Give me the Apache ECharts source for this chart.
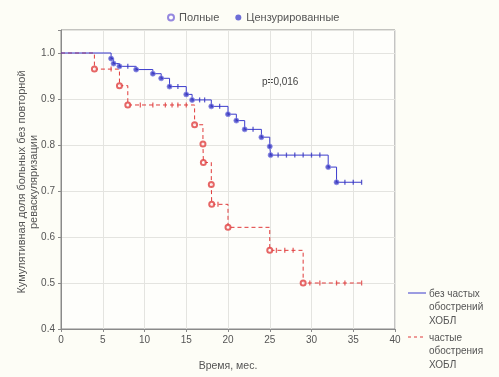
<!DOCTYPE html>
<html>
<head>
<meta charset="utf-8">
<script src="https://cdn.jsdelivr.net/npm/echarts@6/dist/echarts.min.js"></script>
<style>
html,body{margin:0;padding:0;background:#fdfdf6;}
#c{width:499px;height:377px;}
</style>
</head>
<body>
<div id="c"></div>
<script>
// Kaplan–Meier: group without frequent COPD exacerbations (blue)
const blueTimes = [0, 6, 6.3, 7, 9, 11, 12, 13, 15, 15.7, 18, 20, 21, 22, 24, 25, 25.1, 32, 33, 36];
const blueSurv  = [1.0, 0.988, 0.977, 0.971, 0.964, 0.955, 0.945, 0.927, 0.910, 0.898, 0.884, 0.867, 0.853, 0.834, 0.817, 0.797, 0.778, 0.752, 0.719, 0.719];
const blueCensT = [8, 14, 16.6, 17.2, 19, 23, 26, 27, 28, 29, 30, 31, 34, 35, 36];
// group with frequent COPD exacerbations (red)
const redTimes = [0, 4, 7, 8, 16, 17, 17.05, 18, 18.05, 20, 25, 29, 36];
const redSurv  = [1.0, 0.965, 0.929, 0.887, 0.844, 0.802, 0.762, 0.714, 0.671, 0.621, 0.571, 0.500, 0.500];
const redCensT = [6, 9.5, 11, 12.5, 13.3, 14, 15, 18.8, 25.8, 26.8, 27.8, 29.8, 31, 33, 34, 36];

const xTicks = [0, 5, 10, 15, 20, 25, 30, 35, 40];
const yTicks = [0.4, 0.5, 0.6, 0.7, 0.8, 0.9, 1.0];
const legendTop = ['Полные', 'Цензурированные'];
const groupNames = ['без частых\nобострений\nХОБЛ', 'частые\nобострения\nХОБЛ'];
const yTitle = 'Кумулятивная доля больных без повторной\nреваскуляризации';
const pText = 'p=0,016';

function curve(ts, ss){ return ts.map((t,i)=>[t, ss[i]]); }
function events(ts, ss){
  const out=[];
  for(let i=1;i<ts.length;i++){ if(ss[i]<ss[i-1]) out.push([ts[i], ss[i]]); }
  return out;
}
function survAt(ts, ss, t){
  let v=ss[0];
  for(let i=0;i<ts.length;i++){ if(ts[i]<=t) v=ss[i]; }
  return v;
}
function cens(ts, ss, cs){ return cs.map(t=>[t, survAt(ts, ss, t)]); }

const BLUE = '#3b3bcc';
const RED = '#e03a3a';
const FONT = 'Liberation Sans, Arial, sans-serif';

const chart = echarts.init(document.getElementById('c'), null, {renderer:'canvas'});
chart.setOption({
  backgroundColor: '#fdfdf6',
  animation: false,
  textStyle: {fontFamily: FONT},
  grid: {left: 61, right: 104, top: 30, bottom: 47, show: true, borderColor: '#8a8a8a', borderWidth: 1, backgroundColor: '#fefefb'},
  legend: {
    top: 7, left: 162, itemWidth: 6, itemHeight: 6, itemGap: 16,
    textStyle: {fontSize: 11, color: '#555', fontFamily: FONT},
    data: [
      {name: legendTop[0], icon: 'emptyCircle', itemStyle: {color: '#7a6ad8', borderColor: '#7a6ad8', borderWidth: 1.2}},
      {name: legendTop[1], icon: 'circle', itemStyle: {color: '#4848d0'}}
    ]
  },
  xAxis: {
    type: 'value', min: xTicks[0], max: xTicks[xTicks.length-1], interval: 5,
    name: 'Время, мес.', nameLocation: 'middle', nameGap: 32,
    nameTextStyle: {fontSize: 10.5, color: '#555'},
    axisLine: {show: true, lineStyle: {color: '#8a8a8a'}},
    axisTick: {show: true, length: 3, lineStyle: {color: '#8a8a8a'}},
    axisLabel: {fontSize: 10, color: '#555', margin: 6},
    splitLine: {show: true, lineStyle: {color: '#e4e4e0', width: 1}}
  },
  yAxis: {
    type: 'value', min: yTicks[0], max: 1.05, interval: 0.1,
    axisLine: {show: true, lineStyle: {color: '#8a8a8a'}},
    axisTick: {show: true, length: 3, lineStyle: {color: '#8a8a8a'}},
    axisLabel: {fontSize: 10, color: '#555', margin: 6,
      formatter: v => (v > 1.001 ? '' : v.toFixed(1))},
    splitLine: {show: true, lineStyle: {color: '#e4e4e0', width: 1}}
  },
  series: [
    {type: 'line', name: groupNames[0], step: 'end', showSymbol: false, data: curve(blueTimes, blueSurv),
     lineStyle: {color: BLUE, width: 1}, itemStyle: {color: BLUE}, z: 3},
    {type: 'line', name: groupNames[1], step: 'end', showSymbol: false, data: curve(redTimes, redSurv),
     lineStyle: {color: RED, width: 1, type: [4, 3]}, itemStyle: {color: RED}, z: 2},
    {type: 'scatter', name: legendTop[0], symbol: 'circle', symbolSize: 5, data: events(blueTimes, blueSurv),
     itemStyle: {color: '#3535c0', borderColor: '#8c8ce6', borderWidth: 1}, z: 5},
    {type: 'scatter', name: legendTop[0], symbol: 'emptyCircle', symbolSize: 5, data: events(redTimes, redSurv),
     itemStyle: {color: '#e04040', borderWidth: 1.2}, z: 5},
    {type: 'scatter', name: legendTop[1], symbol: 'rect', symbolSize: [1.3, 5], data: cens(blueTimes, blueSurv, blueCensT),
     itemStyle: {color: '#3535c0'}, z: 4},
    {type: 'scatter', name: legendTop[1], symbol: 'rect', symbolSize: [1.3, 5], data: cens(redTimes, redSurv, redCensT),
     itemStyle: {color: '#e04040'}, z: 4}
  ],
  graphic: [
    {type: 'text', x: 28, y: 182, rotation: Math.PI / 2,
     style: {text: yTitle, fontSize: 11, lineHeight: 12, fill: '#555', fontFamily: FONT, align: 'center', verticalAlign: 'middle'}},
    {type: 'text', left: 262, top: 77, style: {text: pText, fontSize: 10, fill: '#444', fontFamily: FONT}},
    {type: 'line', shape: {x1: 408, y1: 293, x2: 426, y2: 293}, style: {stroke: BLUE, lineWidth: 1}},
    {type: 'text', left: 429, top: 287, style: {text: groupNames[0], fontSize: 10, lineHeight: 13.5, fill: '#555', fontFamily: FONT}},
    {type: 'line', shape: {x1: 408, y1: 337, x2: 426, y2: 337}, style: {stroke: RED, lineWidth: 1, lineDash: [3, 3]}},
    {type: 'text', left: 429, top: 331, style: {text: groupNames[1], fontSize: 10, lineHeight: 13.5, fill: '#555', fontFamily: FONT}}
  ]
});
</script>
</body>
</html>
